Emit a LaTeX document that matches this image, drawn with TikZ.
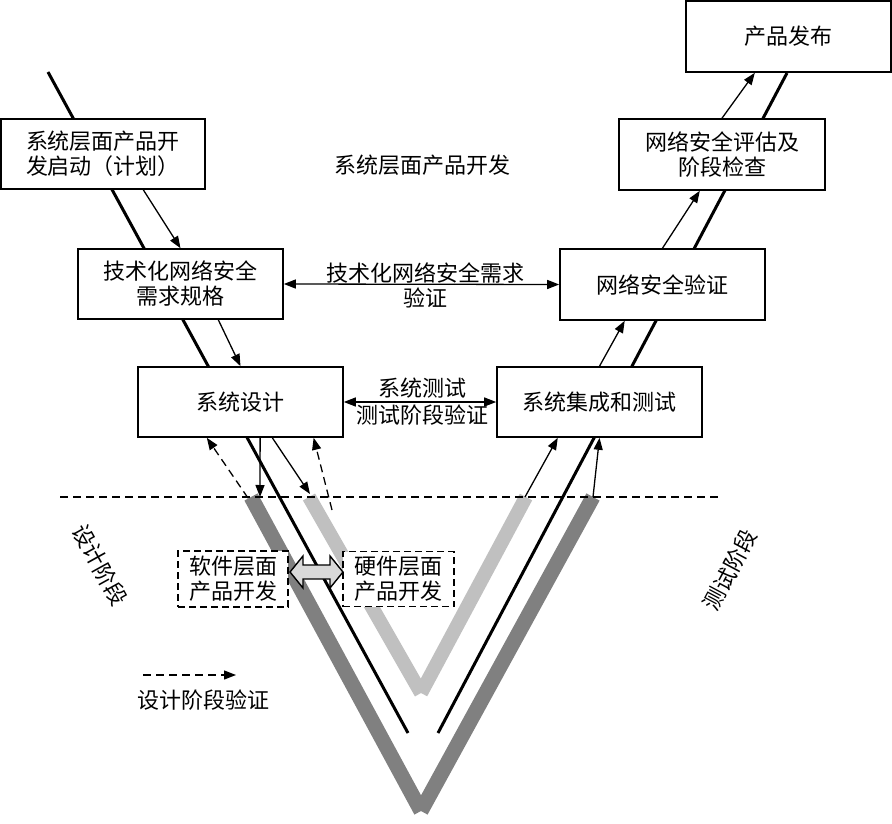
\documentclass[tikz,border=0pt]{standalone}
\usepackage{fontspec}
\setmainfont{Noto Sans CJK SC}
\usetikzlibrary{arrows.meta,calc}
\definecolor{darkband}{HTML}{808080}
\definecolor{lightband}{HTML}{C0C0C0}
\definecolor{arrowfill}{HTML}{D9D9D9}
\begin{document}
\begin{tikzpicture}[x=1pt,y=-1pt,
  txt/.style={font=\fontsize{22}{25}\selectfont},
  box/.style={txt, draw, line width=1.6pt, fill=white, align=center, inner sep=0pt, minimum width=205pt, minimum height=70pt},
  dbox/.style={txt, draw, dash pattern=on 7pt off 4pt, line width=1.5pt, fill=white, align=center, inner sep=0pt, minimum width=110pt, minimum height=56pt},
  arr/.style={line width=1.3pt, -{Triangle[length=12pt,width=9pt]}},
  arrtwo/.style={line width=1.3pt, {Triangle[length=12pt,width=9pt]}-{Triangle[length=12pt,width=9pt]}},
  darr/.style={arr, dash pattern=on 8pt off 5pt},
  vline/.style={line width=3pt},
  band/.style={line width=15pt},
  lbl/.style={txt, align=center, inner sep=0pt}
]
\useasboundingbox (0,0) rectangle (892,824);

% grey bands
\draw[band, darkband] (251,497) -- (421,811);
\draw[band, darkband] (421,811) -- (593,497);
\draw[band, lightband, line width=14pt] (309,497) -- (421,693);
\draw[band, lightband, line width=14pt] (421,693) -- (526,497);

% black V lines
\draw[vline] (48,72) -- (408,733);
\draw[vline] (438,733) -- (787,73);

% horizontal dashed line
\coordinate (hl1) at (60,497);
\coordinate (hl2) at (720,497);
\draw[line width=1.4pt, dash pattern=on 8pt off 5pt] (hl1) -- (hl2);

% boxes
\node[box, minimum width=204pt] (b1) at (103,154) {系统层面产品开\\发启动（计划）};
\node[box] (b2) at (180.5,284) {技术化网络安全\\需求规格};
\node[box] (b3) at (240.5,402) {系统设计};
\node[box] (b4) at (599.5,402) {系统集成和测试};
\node[box, minimum height=71pt] (b5) at (662.5,284.5) {网络安全验证};
\node[box, minimum width=206pt, minimum height=71pt] (b6) at (722,154.5) {网络安全评估及\\阶段检查};
\node[box, minimum height=71pt] (b7) at (788.5,36.5) {产品发布};

% dashed boxes
\node[dbox] (sw) at (233,579) {软件层面\\产品开发};
\node[dbox, minimum width=111pt, minimum height=55pt] (hw) at (398.5,579) {硬件层面\\产品开发};

% block double arrow
\draw[line width=1.4pt, fill=arrowfill] (290,572) -- (303,556) -- (303,565) -- (330,565) -- (330,556) -- (343,572) -- (330,588) -- (330,579) -- (303,579) -- (303,588) -- cycle;

% texts
\node[lbl] (t0) at (422,165) {系统层面产品开发};
\node[lbl] (t1) at (425,285) {技术化网络安全需求\\验证};
\node[lbl] (t2) at (422,402) {系统测试\\[2pt]测试阶段验证};
\node[lbl, rotate=-61] (dp) at (100,565) {设计阶段};
\node[lbl, rotate=62] (tp) at (730,570) {测试阶段};

% horizontal double arrows
\draw[arrtwo] (b2.east) -- (b5.west);
\draw[arrtwo] (b3.east) -- (b4.west);

% coordinates at the band tops
\coordinate (c1) at (260,497);
\coordinate (c2) at (310,494);
\coordinate (c3) at (248,498);
\coordinate (c4) at (332,510);
\coordinate (c5) at (525,497);
\coordinate (c6) at (593,497);

% arrows left side
\draw[arr] ($(b1.south west)!0.696!(b1.south east)$) -- (b2.north);
\draw[arr] ($(b2.south west)!0.683!(b2.south east)$) -- (b3.north);
\draw[arr] ($(b3.south west)!0.595!(b3.south east)$) -- (c1);
\draw[arr] ($(b3.south west)!0.654!(b3.south east)$) -- (c2);
\draw[darr] (c3) -- ($(b3.south west)!0.337!(b3.south east)$);
\draw[darr] (c4) -- ($(b3.south west)!0.854!(b3.south east)$);

% arrows right side
\draw[arr] (c5) -- ($(b4.south west)!0.298!(b4.south east)$);
\draw[arr] (c6) -- (b4.south);
\draw[arr] (b4.north) -- ($(b5.south west)!0.317!(b5.south east)$);
\draw[arr] (b5.north) -- ($(b6.south west)!0.393!(b6.south east)$);
\draw[arr] (b6.north) -- ($(b7.south west)!0.337!(b7.south east)$);

% legend
\coordinate (lg1) at (143,675);
\coordinate (lg2) at (236,675);
\draw[darr] (lg1) -- (lg2);
\node[lbl] (lgt) at (203,700) {设计阶段验证};
\end{tikzpicture}
\end{document}
